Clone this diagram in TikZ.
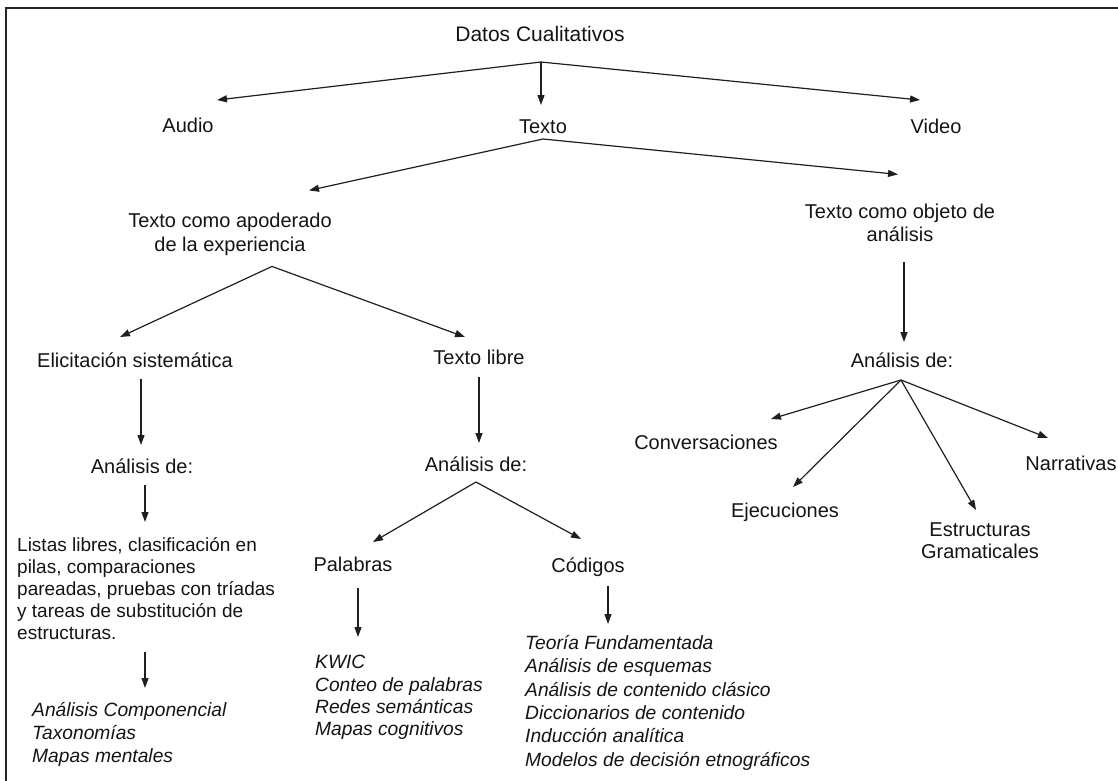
\documentclass[tikz,border=0pt]{standalone}
\usepackage{fontspec}
\setmainfont{Liberation Sans}
\usetikzlibrary{arrows.meta}
\begin{document}
\begin{tikzpicture}[x=1pt,y=-1pt,
  lbl/.style={inner sep=0pt, font=\fontsize{20}{23}\selectfont, anchor=base, text=black!92},
  blk/.style={inner sep=0pt, align=left, anchor=north west, font=\fontsize{20}{23}\selectfont, text=black!92},
  arr/.style={draw=black!88, line width=1.2pt, -{Triangle[length=10pt,width=7pt]}},
  frame/.style={draw=black!85, line width=2pt}
  ]
\useasboundingbox (0,0) rectangle (1118,780);
\draw[frame] (6,781) -- (6,8) -- (1119,8);

% level 0-1
\node[lbl, font=\fontsize{21}{24}\selectfont] (datos) at (540,41) {Datos Cualitativos};
\node[lbl] (audio) at (188,132) {Audio};
\node[lbl] (texto) at (543,133) {Texto};
\node[lbl] (video) at (936,133) {Video};
% level 2
\node[blk, anchor=north, align=center, font=\fontsize{20}{24}\selectfont] (apod) at (230,212.4) {Texto como apoderado\\de la experiencia};
\node[blk, anchor=north, align=center] (objeto) at (900,203.4) {Texto como objeto de\\análisis};
% level 3
\node[lbl] (elic) at (135,367) {Elicitación sistemática};
\node[lbl] (libre) at (479,364) {Texto libre};
\node[lbl] (anaR) at (902,367) {Análisis de:};
% level 4
\node[lbl] (anaL) at (142,473) {Análisis de:};
\node[lbl] (anaM) at (476,471) {Análisis de:};
\node[lbl] (conv) at (706,449) {Conversaciones};
\node[lbl] (ejec) at (785,517) {Ejecuciones};
\node[lbl] (narr) at (1071,470) {Narrativas};
\node[blk, anchor=north, align=center, font=\fontsize{20}{22}\selectfont] (estr) at (980,522.4) {Estructuras\\Gramaticales};
% level 5
\node[blk, font=\fontsize{19}{22}\selectfont] (listas) at (17,537) {Listas libres, clasificación en\\pilas, comparaciones\\pareadas, pruebas con tríadas\\y tareas de substitución de\\estructuras.};
\node[lbl] (pal) at (353,571) {Palabras};
\node[lbl] (cod) at (588,572) {Códigos};
% level 6 (italic lists)
\node[blk, font=\fontsize{19.2}{23}\selectfont\itshape] (itL) at (32,702) {Análisis Componencial\\Taxonomías\\Mapas mentales};
\node[blk, font=\fontsize{19.2}{22.4}\selectfont\itshape] (itP) at (315,655) {KWIC\\Conteo de palabras\\Redes semánticas\\Mapas cognitivos};
\node[blk, font=\fontsize{19.2}{23.4}\selectfont\itshape] (itC) at (525,635) {Teoría Fundamentada\\Análisis de esquemas\\Análisis de contenido clásico\\Diccionarios de contenido\\Inducción analítica\\Modelos de decisión etnográficos};

% connectors
\coordinate (dA) at ([shift={(1,21)}]datos.base);
\draw[arr] (dA) -- ([shift={(29,-32)}]audio.base);
\draw[arr] (dA) -- ([shift={(-2,-28)}]texto.base);
\draw[arr] (dA) -- ([shift={(-16,-33)}]video.base);

\coordinate (tA) at ([shift={(0,6)}]texto.base);
\draw[arr] (tA) -- ([shift={(79,-22)}]apod.north);
\draw[arr] (tA) -- ([shift={(-2,-29)}]objeto.north);

\coordinate (pA) at ([shift={(42,11)}]apod.south);
\draw[arr] (pA) -- ([shift={(-15,-30)}]elic.base);
\draw[arr] (pA) -- ([shift={(-14,-27)}]libre.base);

\draw[arr] ([shift={(6,12)}]elic.base) -- ([shift={(-1,-28)}]anaL.base);
\draw[arr] ([shift={(0,13)}]libre.base) -- ([shift={(3,-28)}]anaM.base);
\draw[arr] ([shift={(4,21)}]objeto.south) -- ([shift={(2,-25)}]anaR.base);

\coordinate (mA) at ([shift={(0,11)}]anaM.base);
\draw[arr] (mA) -- ([shift={(20,-29)}]pal.base);
\draw[arr] (mA) -- ([shift={(-7,-33)}]cod.base);

\coordinate (rA) at ([shift={(-1,13)}]anaR.base);
\draw[arr] (rA) -- ([shift={(65,-30)}]conv.base);
\draw[arr] (rA) -- ([shift={(8,-30)}]ejec.base);
\draw[arr] (rA) -- ([shift={(-4,-12.4)}]estr.north);
\draw[arr] (rA) -- ([shift={(-23,-32)}]narr.base);

\draw[arr] ([shift={(3,12)}]anaL.base) -- ([shift={(128,-15)}]listas.north west);
\draw[arr] ([shift={(128,115)}]listas.north west) -- ([shift={(113,-14)}]itL.north west);
\draw[arr] ([shift={(5,17)}]pal.base) -- ([shift={(43,-18)}]itP.north west);
\draw[arr] ([shift={(20,14)}]cod.base) -- ([shift={(83,-11)}]itC.north west);
\end{tikzpicture}
\end{document}
